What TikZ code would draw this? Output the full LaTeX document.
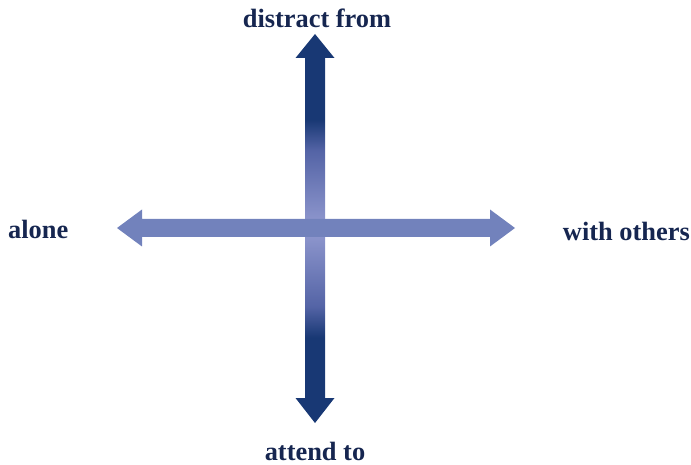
\documentclass[tikz,border=0pt]{standalone}
\usepackage{fontspec}
\setmainfont{Liberation Serif}
\usetikzlibrary{calc}
\definecolor{navy}{RGB}{24,56,116}
\definecolor{midtone}{RGB}{84,100,166}
\definecolor{paleblue}{RGB}{146,154,208}
\definecolor{midblue}{RGB}{114,130,188}
\definecolor{textblue}{RGB}{22,38,80}
\pgfdeclareverticalshading{poleshade}{100bp}{color(0bp)=(navy); color(36bp)=(navy);
  color(40bp)=(midtone); color(50bp)=(paleblue); color(60bp)=(midtone);
  color(64bp)=(navy); color(100bp)=(navy)}
\tikzset{
  pole/.style={text=textblue,font=\fontsize{26.4}{30}\selectfont\bfseries,inner sep=0pt}
}
\begin{document}
\begin{tikzpicture}[x=1pt,y=-1pt]
  \useasboundingbox (0,0) rectangle (691,465);
  % arrow ends
  \coordinate (up) at (315,34);
  \coordinate (down) at (315,423);
  \coordinate (left) at (117,228);
  \coordinate (right) at (515,228);
  % vertical arrow
  \shade[shading=poleshade]
    (up) -- ++(19.5,24) -- ++(-9.5,0) -- ($(down)+(10,-25)$) -- ++(9.5,0)
    -- (down) -- ++(-19.5,-25) -- ++(9.5,0) -- ($(up)+(-10,24)$) -- ++(-9.5,0) -- cycle;
  % horizontal arrow
  \fill[midblue]
    (left) -- ++(25,-18.5) -- ++(0,9.5) -- ($(right)+(-25,-9)$) -- ++(0,-9.5)
    -- (right) -- ++(-25,18.5) -- ++(0,-9.5) -- ($(left)+(25,9)$) -- ++(0,9.5) -- cycle;
  % labels
  \node[pole,anchor=base] (top) at (317,28) {distract from};
  \node[pole,anchor=base] (bottom) at (315,460) {attend to};
  \node[pole,anchor=base west] (alone) at (8,239) {alone};
  \node[pole,anchor=base east] (others) at (690,241) {with others};
\end{tikzpicture}
\end{document}
